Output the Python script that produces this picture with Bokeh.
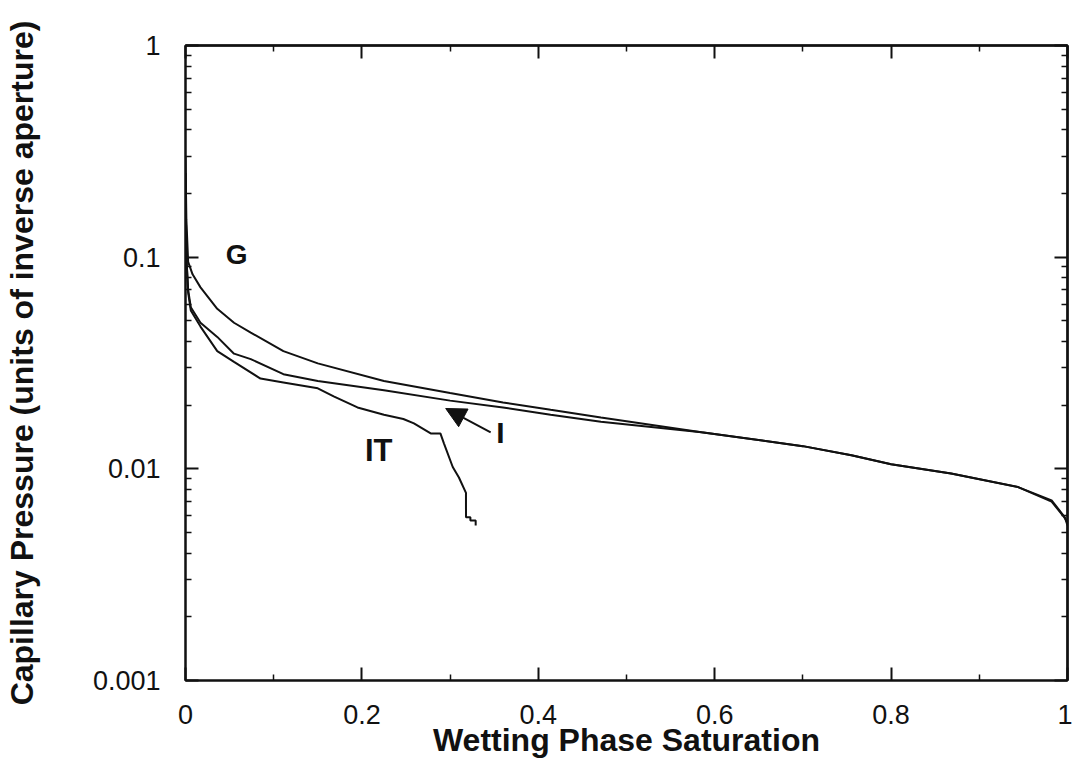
from bokeh.plotting import figure
from bokeh.models import FixedTicker, LinearAxis, LogAxis, Range1d, Arrow, NormalHead, Label
from bokeh.embed import file_html
from bokeh.resources import INLINE

# ---- data ----
sat_G = [0, 0.001, 0.003, 0.008, 0.017, 0.036, 0.055, 0.074, 0.111, 0.15, 0.225, 0.30,
         0.36, 0.414, 0.471, 0.585, 0.70, 0.755, 0.80, 0.868, 0.944, 0.982, 0.997, 1.0]
pc_G = [0.3, 0.15, 0.095, 0.083, 0.072, 0.057, 0.049, 0.044, 0.036, 0.0315, 0.026, 0.0228,
        0.0206, 0.019, 0.0175, 0.0149, 0.0128, 0.0116, 0.0105, 0.0095, 0.0082, 0.0071, 0.0059, 0.0054]

sat_I = [0, 0.001, 0.003, 0.006, 0.017, 0.036, 0.055, 0.074, 0.111, 0.15, 0.225, 0.30,
         0.36, 0.414, 0.471, 0.585, 0.70, 0.755, 0.80, 0.868, 0.944, 0.982, 0.995, 1.0]
pc_I = [0.25, 0.1, 0.07, 0.058, 0.049, 0.042, 0.035, 0.033, 0.028, 0.026, 0.0235, 0.021,
        0.0195, 0.018, 0.0167, 0.0149, 0.0128, 0.0116, 0.0105, 0.0095, 0.0082, 0.0070, 0.0060, 0.0056]

sat_IT = [0, 0.001, 0.003, 0.006, 0.017, 0.036, 0.055, 0.085, 0.111, 0.15, 0.168, 0.195,
          0.225, 0.247, 0.259, 0.278, 0.289, 0.293, 0.303, 0.31, 0.318, 0.318, 0.323, 0.323,
          0.329, 0.329]
pc_IT = [0.25, 0.1, 0.068, 0.056, 0.047, 0.036, 0.032, 0.0267, 0.0256, 0.024, 0.022, 0.0195,
         0.018, 0.0172, 0.0164, 0.0147, 0.0147, 0.0132, 0.0102, 0.0091, 0.0077, 0.0059, 0.0059,
         0.0057, 0.0057, 0.0054]

x_ticks = [0, 0.2, 0.4, 0.6, 0.8, 1.0]
x_tick_labels = ["0", "0.2", "0.4", "0.6", "0.8", "1"]
x_minor = [0.1, 0.3, 0.5, 0.7, 0.9]
y_ticks = [0.001, 0.01, 0.1, 1.0]
y_tick_labels = ["0.001", "0.01", "0.1", "1"]
y_minor = [k * 10.0 ** e for e in (-3, -2, -1) for k in range(2, 10)]

curve_labels = ["G", "I", "IT"]
label_x = [0.058, 0.357, 0.219]
label_y = [0.103, 0.01486, 0.01222]
label_size = ["28px", "30px", "31px"]
arrow_from = (0.346, 0.01486)
arrow_to = (0.295, 0.01928)

FONT = "Liberation Sans"
INK = "#111111"

p = figure(width=1072, height=770, x_range=Range1d(0, 1), y_range=Range1d(0.001, 1),
           y_axis_type="log", output_backend="svg", toolbar_location=None,
           min_border_left=185, min_border_right=5, min_border_top=45, min_border_bottom=90)
p.grid.visible = False
p.outline_line_color = INK
p.outline_line_width = 2
p.background_fill_color = "white"
p.border_fill_color = "white"

for xs, ys in ((sat_G, pc_G), (sat_I, pc_I), (sat_IT, pc_IT)):
    p.line(xs, ys, line_color=INK, line_width=2)


def style_ticks(ax):
    ax.axis_line_color = INK
    ax.axis_line_width = 2
    ax.major_tick_in = 13
    ax.major_tick_out = 0
    ax.minor_tick_in = 6
    ax.minor_tick_out = 0
    ax.major_tick_line_color = INK
    ax.minor_tick_line_color = INK
    ax.major_tick_line_width = 2
    ax.minor_tick_line_width = 1.5


xa = p.xaxis[0]
ya = p.yaxis[0]
xa.ticker = FixedTicker(ticks=x_ticks, minor_ticks=x_minor)
ya.ticker = FixedTicker(ticks=y_ticks, minor_ticks=y_minor)
xa.major_label_overrides = dict(zip(x_ticks, x_tick_labels))
ya.major_label_overrides = dict(zip(y_ticks, y_tick_labels))
for ax in (xa, ya):
    style_ticks(ax)
    ax.major_label_text_font = FONT
    ax.major_label_text_font_size = "27px"
    ax.major_label_text_color = INK
    ax.axis_label_text_font = FONT
    ax.axis_label_text_font_style = "bold"
    ax.axis_label_text_font_size = "32px"
    ax.axis_label_text_color = INK
xa.major_label_standoff = 24
ya.major_label_standoff = 25
xa.axis_label = "Wetting Phase Saturation"
ya.axis_label = "Capillary Pressure (units of inverse aperture)"
xa.axis_label_standoff = -5
ya.axis_label_standoff = 50

# mirrored ticks on the top and right sides (no labels): one axis for the
# long ticks and one for the short ticks on each side
for cls, side, majors, minors in ((LinearAxis, "above", x_ticks, x_minor),
                                  (LogAxis, "right", y_ticks, y_minor)):
    for positions, length, width in ((majors, 13, 2), (minors, 6, 1.5)):
        ax = cls(ticker=FixedTicker(ticks=[], minor_ticks=positions))
        style_ticks(ax)
        ax.minor_tick_in = length
        ax.minor_tick_line_width = width
        p.add_layout(ax, side)

for txt, lx, ly, fs in zip(curve_labels, label_x, label_y, label_size):
    p.add_layout(Label(x=lx, y=ly, text=txt, text_font=FONT, text_font_style="bold",
                       text_font_size=fs, text_align="center", text_baseline="middle",
                       text_color=INK))

p.add_layout(Arrow(end=NormalHead(size=20, fill_color=INK, line_color=INK),
                   x_start=arrow_from[0], y_start=arrow_from[1],
                   x_end=arrow_to[0], y_end=arrow_to[1],
                   line_color=INK, line_width=2))

open("out.html", "w").write(file_html(p, INLINE))
